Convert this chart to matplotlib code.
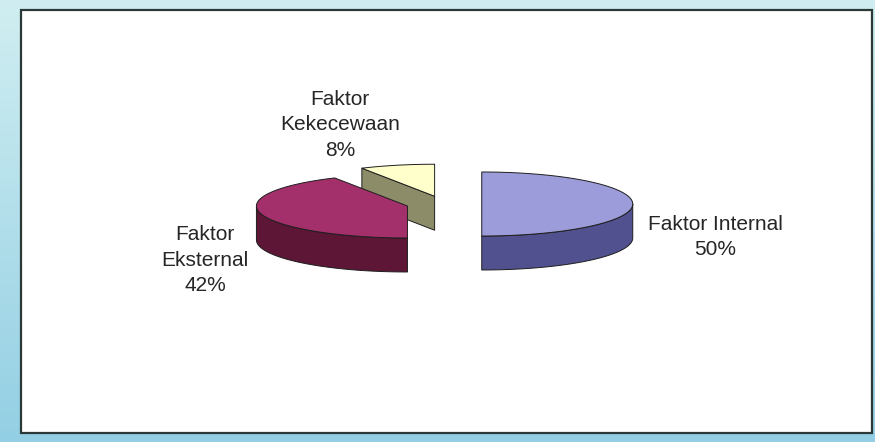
import numpy as np
import matplotlib.pyplot as plt
from matplotlib.patches import Polygon, Rectangle
from matplotlib.colors import LinearSegmentedColormap

# slices, clockwise from 12 o'clock
labels = ['Faktor Internal', 'Faktor\nEksternal', 'Faktor\nKekecewaan']
values = [50, 42, 8]

top_colors = ['#9c9cda', '#a3306a', '#ffffcc']
side_colors = ['#51518f', '#5d1636', '#8d8c68']

W, H = 875, 442
R = 151.0            # pie radius in pixels
cx0, cy0 = 444, 204  # pie centre (px from left / top)
TILT = 0.212         # vertical squash of the top face
DEPTH = 0.225        # thickness of the pie
EXPLODE = 0.25
label_px = [(715, 237), (205, 260), (340, 125)]

fig = plt.figure(figsize=(W / 100, H / 100), dpi=100)

# blue frame around the chart area
bg = fig.add_axes([0, 0, 1, 1])
cmap = LinearSegmentedColormap.from_list('frame', ['#d0eef1', '#93cfe4'])
bg.imshow(np.linspace(0, 1, 256).reshape(-1, 1), cmap=cmap, aspect='auto',
          extent=[0, 1, 0, 1])
bg.set_xlim(0, 1)
bg.set_ylim(0, 1)
bg.axis('off')
bg.add_patch(Rectangle((21 / W, (H - 433) / H), (872 - 21) / W, (433 - 10) / H,
                       facecolor='white', edgecolor='#2b3838', lw=1.6))

ax = fig.add_axes([0, 0, 1, 1])
ax.set_xlim(-cx0 / R, (W - cx0) / R)
ax.set_ylim(-(H - cy0) / R, cy0 / R)
ax.axis('off')
ax.patch.set_alpha(0)


def proj(theta, cx, cy, dz=0.0):
    # theta in degrees, clockwise from 12 o'clock
    t = np.radians(theta)
    return np.column_stack([cx + np.sin(t), cy + TILT * np.cos(t) - dz])


fracs = np.array(values) / sum(values)
ends = np.cumsum(fracs) * 360
starts = ends - fracs * 360

# back slice first so the front ones cover it
order = sorted(range(len(values)),
               key=lambda i: np.cos(np.radians((starts[i] + ends[i]) / 2)),
               reverse=True)

edge = dict(edgecolor='#1e1e1e', lw=0.7, joinstyle='round')
for i in order:
    s, e = starts[i], ends[i]
    mid = np.radians((s + e) / 2)
    cx = EXPLODE * np.sin(mid)
    cy = EXPLODE * TILT * np.cos(mid)
    c = np.array([[cx, cy]])
    cb = np.array([[cx, cy - DEPTH]])

    # cut faces that look towards the viewer
    for ang, normal in ((s, s - 90), (e, e + 90)):
        if np.cos(np.radians(normal)) < -1e-6:
            p = proj(ang, cx, cy)
            pb = proj(ang, cx, cy, DEPTH)
            ax.add_patch(Polygon(np.vstack([c, p, pb, cb]),
                                 facecolor=side_colors[i], **edge))

    # outer wall on the front half
    a0, a1 = max(s, 90), min(e, 270)
    if a1 > a0:
        th = np.linspace(a0, a1, 80)
        wall = np.vstack([proj(th, cx, cy), proj(th[::-1], cx, cy, DEPTH)])
        ax.add_patch(Polygon(wall, facecolor=side_colors[i], **edge))

    th = np.linspace(s, e, 120)
    ax.add_patch(Polygon(np.vstack([c, proj(th, cx, cy)]),
                         facecolor=top_colors[i], **edge))

for i, (px, py) in enumerate(label_px):
    txt = '{}\n{}%'.format(labels[i], values[i])
    ax.text((px - cx0) / R, (cy0 - py) / R, txt, ha='center', va='center',
            fontsize=15, family='Liberation Sans', color='#262626',
            linespacing=1.45)

fig.savefig('out.png', dpi=100)
